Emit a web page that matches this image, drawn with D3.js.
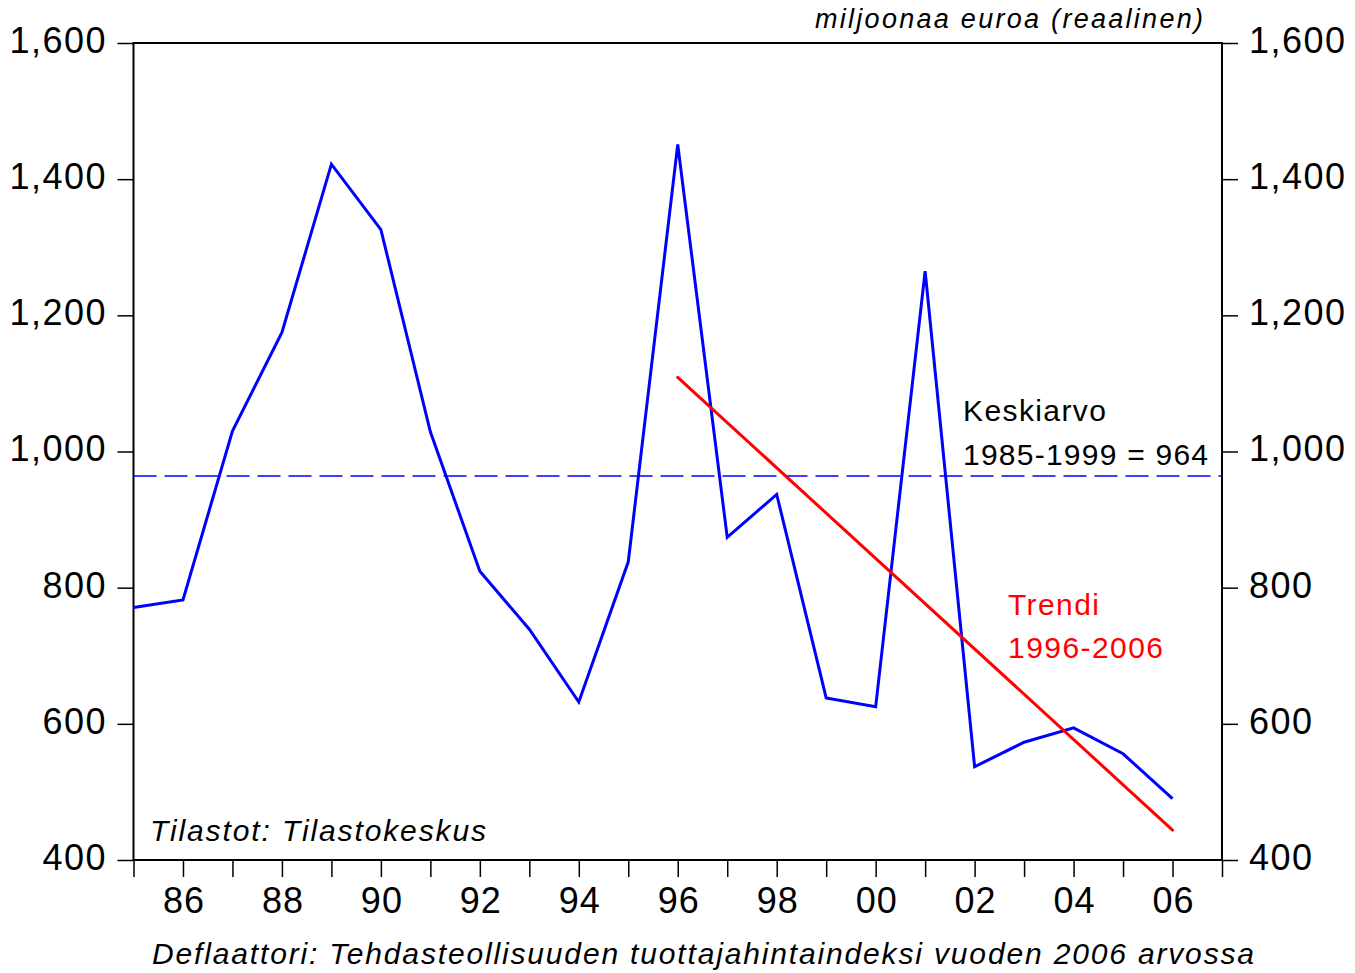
<!DOCTYPE html>
<html><head><meta charset="utf-8">
<script src="https://cdn.jsdelivr.net/npm/d3@7"></script>
<style>body{margin:0;background:#fff}text{font-family:"Liberation Sans",Arial,sans-serif}</style>
</head><body><svg id="c" width="1355" height="973"></svg>
<script>
const years = [1985,1986,1987,1988,1989,1990,1991,1992,1993,1994,1995,1996,1997,1998,1999,2000,2001,2002,2003,2004,2005,2006];
const values = [771,782,1030,1175,1422,1326,1029,824,739,632,838,1451,874,937,638,625,1265,537,573,594,556,490];
const trendYears = [1996,2006];
const trendValues = [1109,444];
const meanValue = 964;
const yTicks = [400,600,800,1000,1200,1400,1600];
const xTickYears = [1985,1986,1987,1988,1989,1990,1991,1992,1993,1994,1995,1996,1997,1998,1999,2000,2001,2002,2003,2004,2005,2006,2007];
const xLabelYears = [1986,1988,1990,1992,1994,1996,1998,2000,2002,2004,2006];

const svg = d3.select("#c");
const L=133.5,R=1222,T=43,B=860;
const x = d3.scaleLinear().domain([1985,2007]).range([L,R]);
const y = d3.scaleLinear().domain([400,1600]).range([B,T]);
const fmt = d3.format(",");

const ya = svg.append("g").attr("transform",`translate(${L},0)`)
  .call(d3.axisLeft(y).tickValues(yTicks).tickFormat(fmt).tickSize(16).tickPadding(12));
const yr = svg.append("g").attr("transform",`translate(${R},0)`)
  .call(d3.axisRight(y).tickValues(yTicks).tickFormat(fmt).tickSize(16).tickPadding(11));
const xa = svg.append("g").attr("transform",`translate(0,${B})`)
  .call(d3.axisBottom(x).tickValues(xTickYears).tickFormat(d=>xLabelYears.includes(d)?String(d).slice(2):"").tickSize(17).tickPadding(6));
[ya,yr,xa].forEach(g=>{
  g.select(".domain").remove();
  g.selectAll("line").attr("stroke","#000").attr("stroke-width",1.5);
  g.selectAll("text").attr("font-size",36).attr("fill","#000").attr("font-family","Liberation Sans, Arial, sans-serif");
});
ya.selectAll("text").attr("letter-spacing",1.5).attr("dx",1.5).attr("dy","0.26em");
yr.selectAll("text").attr("letter-spacing",1.5).attr("dy","0.26em");
xa.selectAll("text").attr("dy","0.82em").attr("letter-spacing",1).attr("dx",0.5);

svg.append("rect").attr("x",L).attr("y",T).attr("width",R-L).attr("height",B-T)
  .attr("fill","none").attr("stroke","#000").attr("stroke-width",2);

svg.append("line").attr("x1",L).attr("x2",R).attr("y1",y(meanValue)).attr("y2",y(meanValue))
  .attr("stroke","#0000ff").attr("stroke-width",1.3).attr("stroke-dasharray","23,8");

const line = d3.line().x(d=>x(d[0])).y(d=>y(d[1]));
svg.append("path").datum(years.map((yv,i)=>[yv,values[i]])).attr("d",line)
  .attr("fill","none").attr("stroke","#0000ff").attr("stroke-width",3).attr("stroke-linejoin","miter");
svg.append("path").datum(trendYears.map((yv,i)=>[yv,trendValues[i]])).attr("d",line)
  .attr("fill","none").attr("stroke","#ff0000").attr("stroke-width",3).attr("stroke-linecap","round");

svg.append("text").attr("x",815).attr("y",28).attr("font-size",27).attr("font-style","italic").attr("textLength",388).attr("lengthAdjust","spacing").text("miljoonaa euroa (reaalinen)");
svg.append("text").attr("x",963).attr("y",421).attr("font-size",30).attr("letter-spacing",1.4).text("Keskiarvo");
svg.append("text").attr("x",963).attr("y",465).attr("font-size",30).attr("textLength",245).attr("lengthAdjust","spacing").text("1985-1999 = 964");
svg.append("text").attr("x",1008).attr("y",615).attr("font-size",30).attr("fill","#ff0000").attr("letter-spacing",1.4).text("Trendi");
svg.append("text").attr("x",1008).attr("y",658).attr("font-size",30).attr("fill","#ff0000").attr("textLength",155).attr("lengthAdjust","spacing").text("1996-2006");
svg.append("text").attr("x",150).attr("y",841).attr("font-size",30).attr("font-style","italic").attr("textLength",336).attr("lengthAdjust","spacing").text("Tilastot: Tilastokeskus");
svg.append("text").attr("x",152).attr("y",964).attr("font-size",30).attr("font-style","italic").attr("textLength",1102).attr("lengthAdjust","spacing").text("Deflaattori: Tehdasteollisuuden tuottajahintaindeksi vuoden 2006 arvossa");
</script></body></html>
